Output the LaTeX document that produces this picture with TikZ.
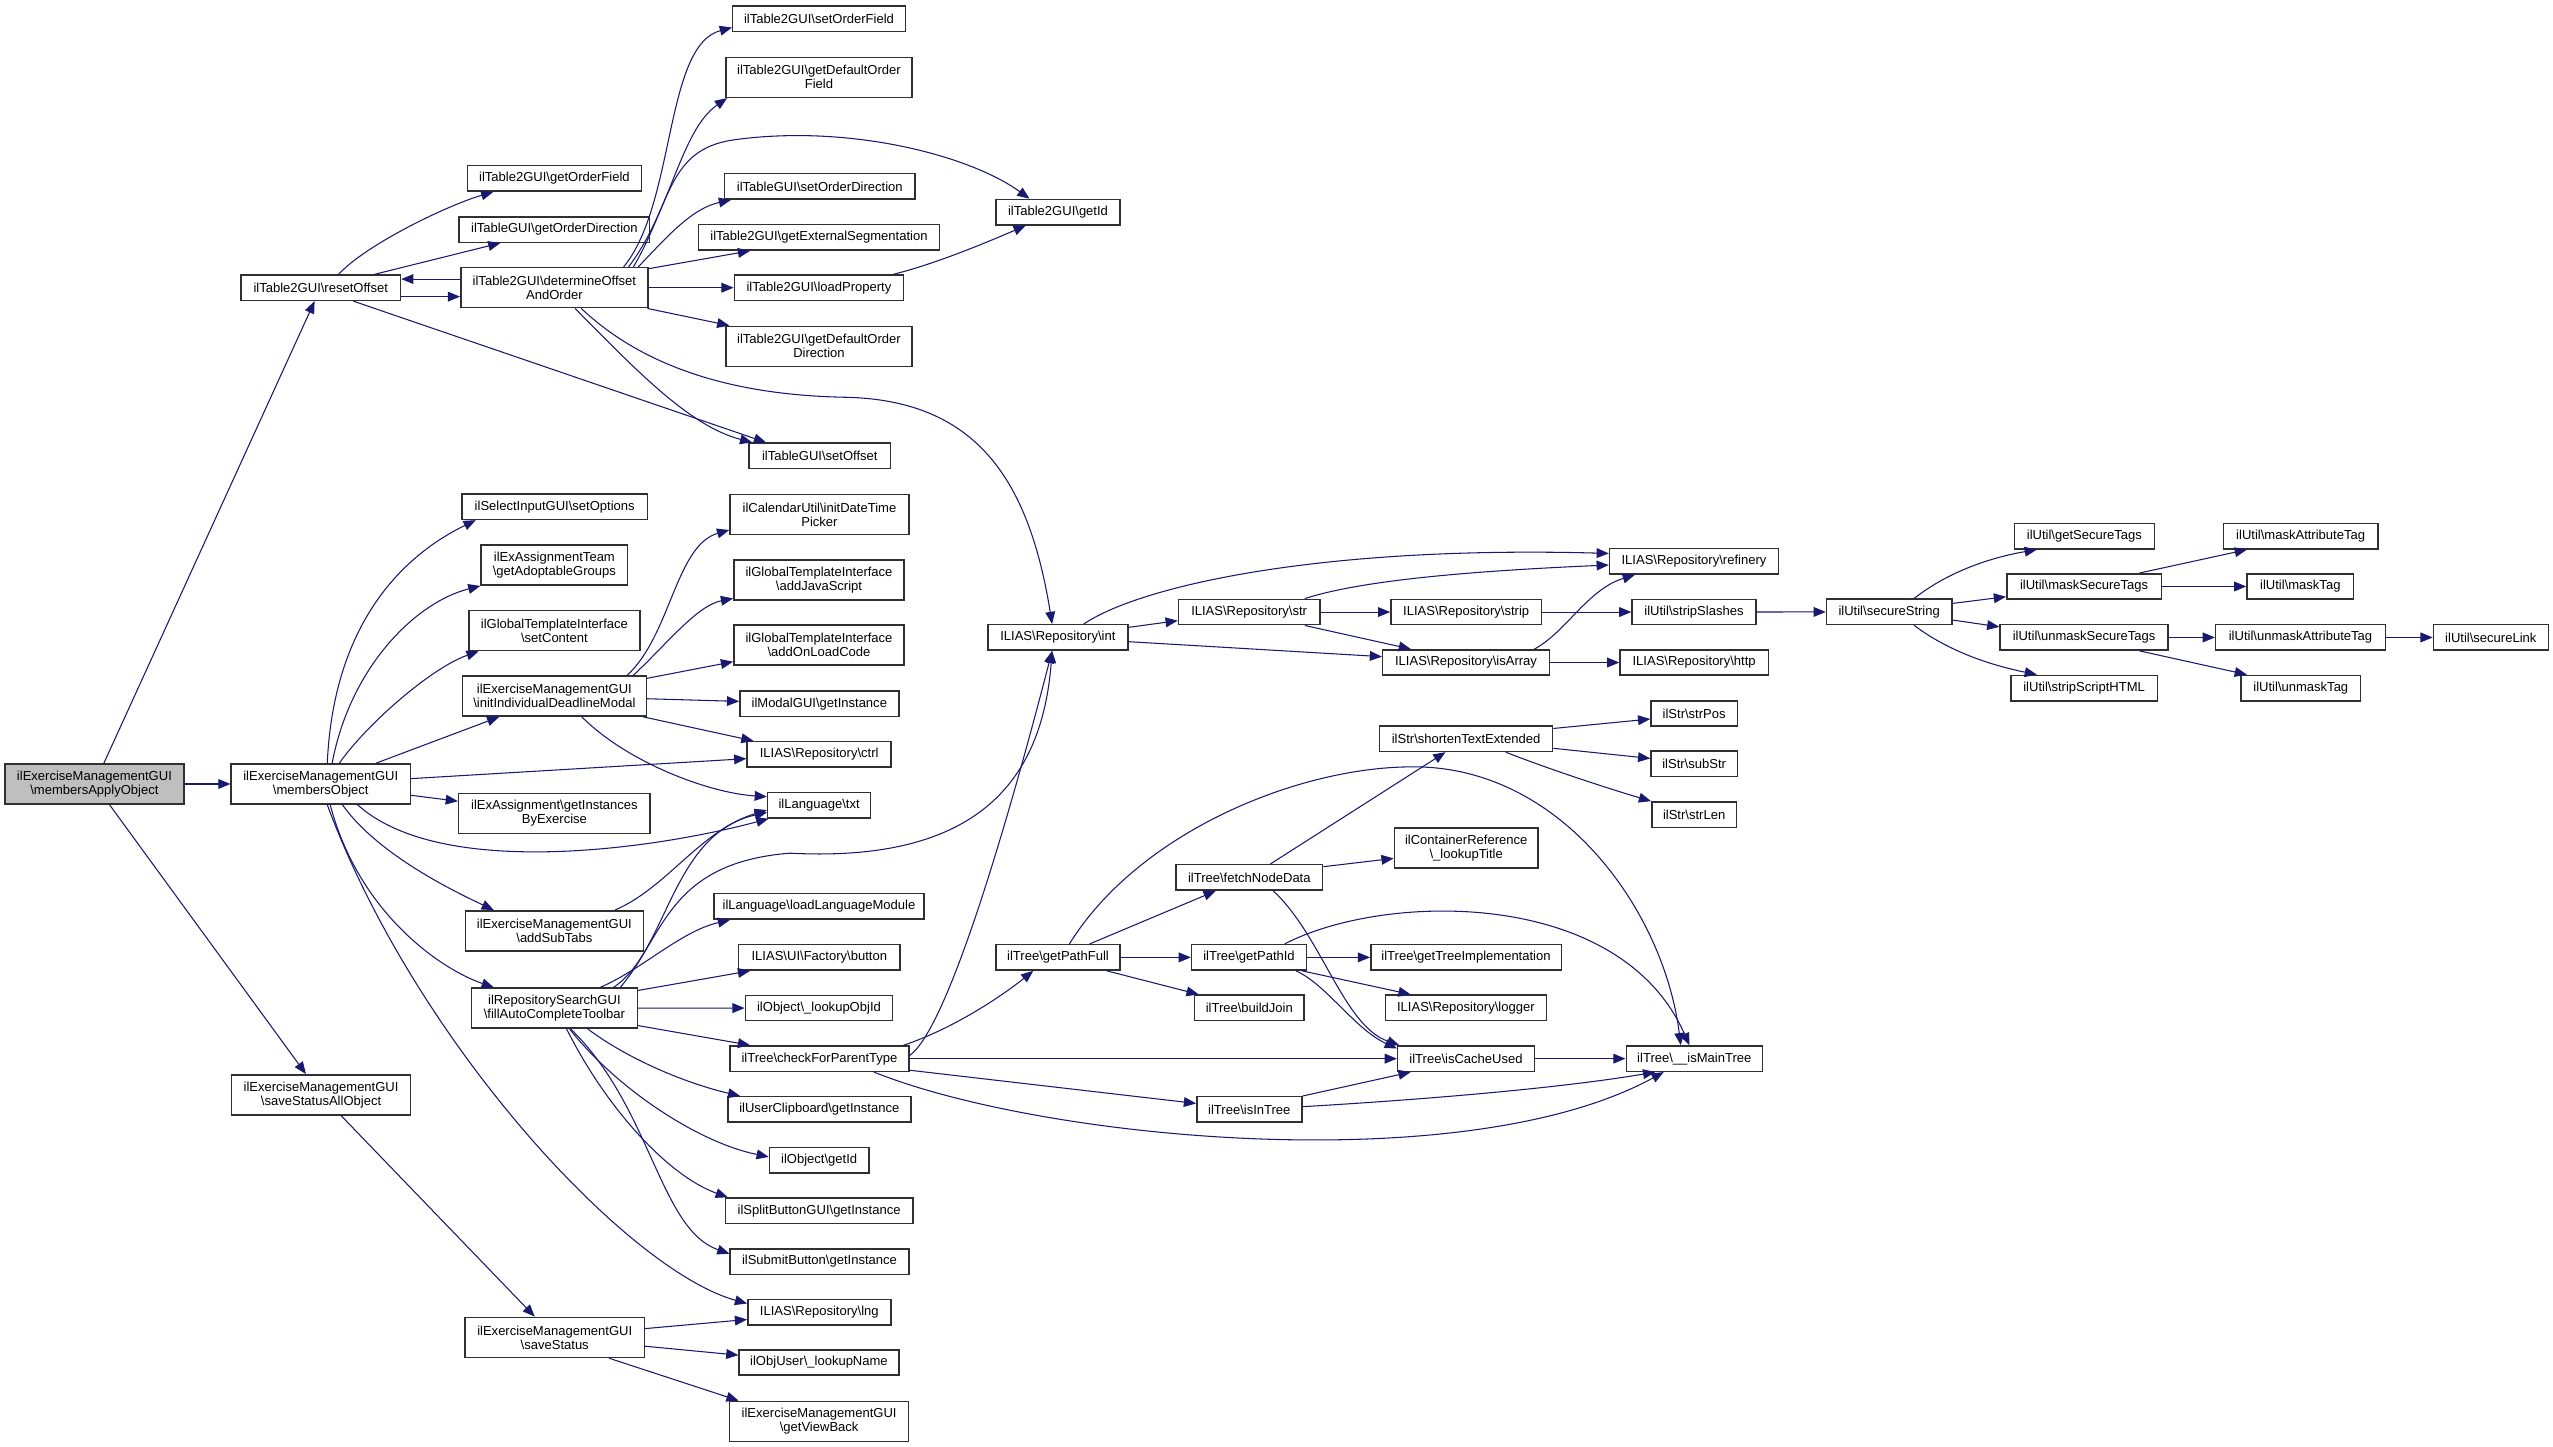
\documentclass[tikz,border=0pt]{standalone}
\usepackage{fontspec}
\setmainfont{Liberation Sans}
\usetikzlibrary{arrows.meta}
\definecolor{edgecol}{HTML}{191970}
\definecolor{nodeborder}{HTML}{303030}
\definecolor{rootgray}{HTML}{BFBFBF}
\newcommand{\BSx}{\textbackslash}
\newcommand{\nodefontx}{\fontsize{8pt}{8.6pt}\selectfont}
\begin{document}
\begin{tikzpicture}[x=1pt,y=-1pt,
  nb/.style={draw=nodeborder, line width=0.9pt, fill=white, inner sep=0pt, font=\nodefontx, align=center, minimum height=15.6pt},
  two/.style={minimum height=24.6pt},
  root/.style={fill=rootgray},
  conn/.style={draw=edgecol, line width=0.65pt, -{Triangle[length=7.5pt,width=6pt]}, fill=none}]
\useasboundingbox (0,0) rectangle (1568,888.7);
\fill[white] (0,0) rectangle (1568,888.7);
% column 0-2
\node[nb,two,root,minimum width=110pt] (A) at (58,481.5) {ilExerciseManagementGUI\\\BSx membersApplyObject};
\node[nb,minimum width=98pt] (B) at (197,176.7) {ilTable2GUI\BSx resetOffset};
\node[nb,two,minimum width=110pt] (C) at (197,481.5) {ilExerciseManagementGUI\\\BSx membersObject};
\node[nb,two,minimum width=110pt] (D) at (197.2,672.4) {ilExerciseManagementGUI\\\BSx saveStatusAllObject};
\node[nb,minimum width=107pt] (E) at (340.5,109.6) {ilTable2GUI\BSx getOrderField};
\node[nb,minimum width=117pt] (F) at (340.5,141) {ilTableGUI\BSx getOrderDirection};
\node[nb,two,minimum width=115pt] (G) at (340.5,176.7) {ilTable2GUI\BSx determineOffset\\AndOrder};
\node[nb,minimum width=114pt] (H) at (340.7,311.2) {ilSelectInputGUI\BSx setOptions};
\node[nb,two,minimum width=90pt] (I) at (340.5,347.1) {ilExAssignmentTeam\\\BSx getAdoptableGroups};
\node[nb,two,minimum width=105pt] (J) at (340.5,387.3) {ilGlobalTemplateInterface\\\BSx setContent};
\node[nb,two,minimum width=113pt] (K) at (340.5,427.5) {ilExerciseManagementGUI\\\BSx initIndividualDeadlineModal};
\node[nb,two,minimum width=117.6pt] (L) at (340.5,499.5) {ilExAssignment\BSx getInstances\\ByExercise};
\node[nb,two,minimum width=109.4pt] (M) at (340.5,571.7) {ilExerciseManagementGUI\\\BSx addSubTabs};
\node[nb,two,minimum width=102pt] (N) at (340.5,619.2) {ilRepositorySearchGUI\\\BSx fillAutoCompleteToolbar};
\node[nb,two,minimum width=110pt] (O) at (340.7,821.4) {ilExerciseManagementGUI\\\BSx saveStatus};
% column 3
\node[nb,minimum width=106pt] (sOF) at (503,11.5) {ilTable2GUI\BSx setOrderField};
\node[nb,two,minimum width=114pt] (gDOF) at (503,47.5) {ilTable2GUI\BSx getDefaultOrder\\Field};
\node[nb,minimum width=117pt] (sOD) at (503.5,114.5) {ilTableGUI\BSx setOrderDirection};
\node[nb,minimum width=148pt] (gES) at (503,145.8) {ilTable2GUI\BSx getExternalSegmentation};
\node[nb,minimum width=104pt] (lP) at (503,176.7) {ilTable2GUI\BSx loadProperty};
\node[nb,two,minimum width=114pt] (gDOD) at (503,212.7) {ilTable2GUI\BSx getDefaultOrder\\Direction};
\node[nb,minimum width=87pt] (sOff) at (503.5,280) {ilTableGUI\BSx setOffset};
\node[nb,two,minimum width=110pt] (iDTP) at (503.3,316.1) {ilCalendarUtil\BSx initDateTime\\Picker};
\node[nb,two,minimum width=104.6pt] (aJS) at (503,356.2) {ilGlobalTemplateInterface\\\BSx addJavaScript};
\node[nb,two,minimum width=104.6pt] (aOLC) at (503,396.1) {ilGlobalTemplateInterface\\\BSx addOnLoadCode};
\node[nb,minimum width=97.6pt] (mGI) at (503.2,432.2) {ilModalGUI\BSx getInstance};
\node[nb,minimum width=88.5pt] (ctrl) at (503.1,463.3) {ILIAS\BSx Repository\BSx ctrl};
\node[nb,minimum width=63.3pt] (txt) at (503.1,494.6) {ilLanguage\BSx txt};
\node[nb,minimum width=129pt] (lLM) at (503,556.7) {ilLanguage\BSx loadLanguageModule};
\node[nb,minimum width=99pt] (btn) at (503.2,588) {ILIAS\BSx UI\BSx Factory\BSx button};
\node[nb,minimum width=90.4pt] (lOI) at (503,619.1) {ilObject\BSx\_lookupObjId};
\node[nb,minimum width=109.7pt] (cFPT) at (503.3,650.2) {ilTree\BSx checkForParentType};
\node[nb,minimum width=112.4pt] (uCG) at (503.2,681.4) {ilUserClipboard\BSx getInstance};
\node[nb,minimum width=61pt] (oGI) at (503.1,712.5) {ilObject\BSx getId};
\node[nb,minimum width=115.3pt] (sBG) at (503.1,743.6) {ilSplitButtonGUI\BSx getInstance};
\node[nb,minimum width=109.7pt] (sBt) at (503.3,774.8) {ilSubmitButton\BSx getInstance};
\node[nb,minimum width=87.8pt] (lng) at (503.2,805.9) {ILIAS\BSx Repository\BSx lng};
\node[nb,minimum width=98pt] (lN) at (503,836.8) {ilObjUser\BSx\_lookupName};
\node[nb,two,minimum width=110pt] (gVB) at (503.1,873) {ilExerciseManagementGUI\\\BSx getViewBack};
% column 4
\node[nb,minimum width=76.2pt] (getId) at (649.8,130.3) {ilTable2GUI\BSx getId};
\node[nb,minimum width=86pt] (int) at (649.7,391.5) {ILIAS\BSx Repository\BSx int};
\node[nb,minimum width=76.2pt] (gPF) at (649.8,588) {ilTree\BSx getPathFull};
% column 5
\node[nb,minimum width=86.8pt] (str) at (767.2,375.9) {ILIAS\BSx Repository\BSx str};
\node[nb,minimum width=90pt] (fND) at (767.3,538.9) {ilTree\BSx fetchNodeData};
\node[nb,minimum width=70.5pt] (gPI) at (767.1,588) {ilTree\BSx getPathId};
\node[nb,minimum width=67.3pt] (bJ) at (767.3,619) {ilTree\BSx buildJoin};
\node[nb,minimum width=64.5pt] (iIT) at (767.3,681.4) {ilTree\BSx isInTree};
% column 6
\node[nb,minimum width=92.4pt] (strip) at (900.5,375.9) {ILIAS\BSx Repository\BSx strip};
\node[nb,minimum width=102.3pt] (isArray) at (900.4,406.9) {ILIAS\BSx Repository\BSx isArray};
\node[nb,minimum width=106.5pt] (sTE) at (900.4,453.7) {ilStr\BSx shortenTextExtended};
\node[nb,two,minimum width=88.2pt] (cR) at (900.5,520.7) {ilContainerReference\\\BSx\_lookupTitle};
\node[nb,minimum width=117pt] (gTI) at (900.4,588) {ilTree\BSx getTreeImplementation};
\node[nb,minimum width=99pt] (logger) at (900.3,619) {ILIAS\BSx Repository\BSx logger};
\node[nb,minimum width=84pt] (iCU) at (900.4,650.2) {ilTree\BSx isCacheUsed};
% column 7
\node[nb,minimum width=103.7pt] (ref) at (1040.4,344.8) {ILIAS\BSx Repository\BSx refinery};
\node[nb,minimum width=76pt] (sS) at (1040.4,375.9) {ilUtil\BSx stripSlashes};
\node[nb,minimum width=91pt] (http) at (1040.5,406.9) {ILIAS\BSx Repository\BSx http};
\node[nb,minimum width=53pt] (strPos) at (1040.5,438.2) {ilStr\BSx strPos};
\node[nb,minimum width=53pt] (subStr) at (1040.5,469) {ilStr\BSx subStr};
\node[nb,minimum width=52pt] (strLen) at (1040.5,500.3) {ilStr\BSx strLen};
\node[nb,minimum width=83.6pt] (iMT) at (1040.6,650.2) {ilTree\BSx\_\_isMainTree};
% columns 8-11
\node[nb,minimum width=77pt] (secS) at (1160.3,375.8) {ilUtil\BSx secureString};
\node[nb,minimum width=86pt] (gST) at (1280.2,329.3) {ilUtil\BSx getSecureTags};
\node[nb,minimum width=95pt] (mST) at (1280,360.2) {ilUtil\BSx maskSecureTags};
\node[nb,minimum width=103.2pt] (uST) at (1280,391.5) {ilUtil\BSx unmaskSecureTags};
\node[nb,minimum width=90pt] (sSH) at (1280,422.6) {ilUtil\BSx stripScriptHTML};
\node[nb,minimum width=95pt] (mAT) at (1413,329.3) {ilUtil\BSx maskAttributeTag};
\node[nb,minimum width=65.5pt] (mT) at (1412.8,360.2) {ilUtil\BSx maskTag};
\node[nb,minimum width=104.2pt] (uAT) at (1412.9,391.5) {ilUtil\BSx unmaskAttributeTag};
\node[nb,minimum width=73.6pt] (uT) at (1413.1,422.6) {ilUtil\BSx unmaskTag};
\node[nb,minimum width=70.5pt] (sL) at (1529.8,391.5) {ilUtil\BSx secureLink};
% ---------------- edges
\draw[conn] (A) -- (B);
\draw[conn] (A) -- (C);
\draw[conn] (A) -- (D);
\draw[conn] ([xshift=11pt]B.north) .. controls (225,150) and (275,126) .. ([xshift=-37.5pt]E.south);
\draw[conn] (B) -- (F);
\draw[conn] ([yshift=5.3pt]G.west) -- ([yshift=5.3pt]B.east);
\draw[conn] ([yshift=-5.5pt]B.east) -- ([yshift=-5.5pt]G.west);
\draw[conn] ([xshift=20pt]B.south) -- ([xshift=-33pt]sOff.north);
\draw[conn] ([xshift=12.7pt]G.south) .. controls (395,232) and (425,262) .. ([xshift=-41.5pt]sOff.north);
\draw[conn] ([xshift=16.5pt]G.south) .. controls (400,230) and (460,243) .. (520,244) .. controls (600,246) and (632,295) .. ([xshift=-3.5pt]int.north);
\draw[conn] ([xshift=42.5pt]G.north) .. controls (415,125) and (408,28) .. ([yshift=-5.4pt]sOF.west);
\draw[conn] ([xshift=45.5pt]G.north) .. controls (412,130) and (418,80) .. ([xshift=1pt]gDOF.south west);
\draw[conn] ([xshift=48.5pt]G.north) .. controls (412,125) and (410,92) .. (450,86) .. controls (520,76) and (595,95) .. ([xshift=-17.5pt]getId.north);
\draw[conn] ([xshift=51.5pt]G.north) .. controls (410,145) and (425,128) .. ([xshift=-54.5pt]sOD.south);
\draw[conn] ([yshift=11.7pt]G.east) -- ([xshift=-42.3pt]gES.south);
\draw[conn] (G) -- (lP);
\draw[conn] ([xshift=-0.8pt]G.south east) -- ([xshift=2.4pt]gDOD.north west);
\draw[conn] ([xshift=45.7pt]lP.north) .. controls (575,162) and (608,148) .. ([xshift=-19.8pt]getId.south);
% membersObject
\draw[conn] ([xshift=4pt]C.north) .. controls (205,380) and (250,340) .. ([xshift=-48.5pt]H.south);
\draw[conn] ([xshift=7pt]C.north) .. controls (215,410) and (255,370) .. (I.south west);
\draw[conn] ([xshift=11.4pt]C.north) .. controls (225,445) and (265,410) .. ([xshift=-46.5pt]J.south);
\draw[conn] (C) -- (K);
\draw[conn] (C) -- (ctrl);
\draw[conn] (C) -- (L);
\draw[conn] ([xshift=22.6pt]C.south) .. controls (270,540) and (400,522) .. ([xshift=1pt]txt.south west);
\draw[conn] ([xshift=13.3pt]C.south) .. controls (232,525) and (280,548) .. ([xshift=-37.2pt]M.north);
\draw[conn] ([xshift=5.8pt]C.south) .. controls (220,560) and (270,595) .. ([xshift=-37.2pt]N.north);
\draw[conn] ([xshift=4pt]C.south) .. controls (255,640) and (385,780) .. ([yshift=5.3pt]lng.west);
% initIndividualDeadlineModal
\draw[conn] ([xshift=44.7pt]K.north) .. controls (412,390) and (415,335) .. ([yshift=-9.4pt]iDTP.west);
\draw[conn] ([xshift=48.5pt]K.north) .. controls (410,395) and (428,372) .. ([yshift=-11.3pt]aJS.west);
\draw[conn] ([yshift=10.9pt]K.east) -- ([yshift=-10.3pt]aOLC.west);
\draw[conn] (K) -- (mGI);
\draw[conn] ([xshift=-2.5pt]K.south east) -- ([xshift=4.4pt]ctrl.north west);
\draw[conn] ([xshift=16.8pt]K.south) .. controls (385,468) and (435,487) .. ([yshift=5.3pt]txt.west);
% addSubTabs
\draw[conn] ([xshift=37.2pt]M.north) .. controls (410,545) and (430,510) .. ([yshift=-2.9pt]txt.west);
% fillAutoCompleteToolbar
\draw[conn] ([xshift=36.2pt]N.north) .. controls (410,585) and (412,512) .. ([yshift=-4.4pt]txt.west);
\draw[conn] ([xshift=28.1pt]N.north) .. controls (395,595) and (418,572) .. ([xshift=-54.6pt]lLM.south);
\draw[conn] ([xshift=40.4pt]N.north) .. controls (408,575) and (410,530) .. (485,524) .. controls (600,530) and (640,480) .. ([xshift=-3.5pt]int.south);
\draw[conn] ([yshift=10.9pt]N.east) -- ([xshift=-42.5pt]btn.south);
\draw[conn] (N) -- (lOI);
\draw[conn] ([yshift=-10.7pt]N.east) -- ([xshift=-42.6pt]cFPT.north);
\draw[conn] ([xshift=20.5pt]N.south) .. controls (385,650) and (420,665) .. ([xshift=-48.6pt]uCG.north);
\draw[conn] ([xshift=9.3pt]N.south) .. controls (380,670) and (430,702) .. ([yshift=2pt]oGI.west);
\draw[conn] ([xshift=7.5pt]N.south) .. controls (372,680) and (410,722) .. ([xshift=2pt]sBG.north west);
\draw[conn] ([xshift=10pt]N.south) .. controls (400,680) and (405,755) .. ([yshift=4.8pt]sBt.west);
% saveStatus
\draw[conn] (D) -- (O);
\draw[conn] ([yshift=5.4pt]O.east) -- ([yshift=-4.5pt]lng.west);
\draw[conn] ([yshift=-5.4pt]O.east) -- ([yshift=4.5pt]lN.west);
\draw[conn] ([xshift=33.3pt]O.south) -- ([xshift=6pt]gVB.north west);
% repository
\draw[conn] ([yshift=6.2pt]int.east) -- ([yshift=-5.3pt]str.west);
\draw[conn] ([xshift=15.9pt]int.north) .. controls (700,360) and (810,335) .. ([yshift=4.9pt]ref.west);
\draw[conn] ([yshift=-2.6pt]int.east) -- ([yshift=3.6pt]isArray.west);
\draw[conn] (str) -- (strip);
\draw[conn] ([xshift=34.2pt]str.north) .. controls (840,355) and (920,350) .. ([yshift=-2.2pt]ref.west);
\draw[conn] ([xshift=34.2pt]str.south) -- ([xshift=-33.8pt]isArray.north);
\draw[conn] (strip) -- (sS);
\draw[conn] ([xshift=42pt]isArray.north) .. controls (962,388) and (975,362) .. ([xshift=-36.3pt]ref.south);
\draw[conn] (isArray) -- (http);
\draw[conn] (sS) -- (secS);
\draw[conn] ([xshift=15.3pt]secS.north) .. controls (1198,350) and (1225,342) .. ([xshift=-29.2pt]gST.south);
\draw[conn] ([yshift=5.2pt]secS.east) -- ([yshift=-6.3pt]mST.west);
\draw[conn] ([yshift=-5pt]secS.east) -- ([yshift=6.5pt]uST.west);
\draw[conn] ([xshift=15.3pt]secS.south) .. controls (1198,401) and (1225,409) .. ([xshift=-29pt]sSH.north);
\draw[conn] ([xshift=34pt]mST.north) -- ([xshift=-33pt]mAT.south);
\draw[conn] (mST) -- (mT);
\draw[conn] (uST) -- (uAT);
\draw[conn] ([xshift=34pt]uST.south) -- ([xshift=-33.1pt]uT.north);
\draw[conn] (uAT) -- (sL);
% tree
\draw[conn] ([yshift=1.9pt]cFPT.east) .. controls (585,630) and (628,470) .. ([xshift=-3.5pt]int.south);
\draw[conn] ([xshift=51.6pt]cFPT.north) .. controls (585,632) and (615,612) .. ([xshift=-15.2pt]gPF.south);
\draw[conn] (cFPT) -- (iCU);
\draw[conn] ([yshift=-7.1pt]cFPT.east) -- ([yshift=3.7pt]iIT.west);
\draw[conn] ([xshift=33.5pt]cFPT.south) .. controls (640,700) and (900,725) .. ([xshift=-18.8pt]iMT.south);
\draw[conn] ([xshift=19.4pt]gPF.north) -- ([xshift=-20.6pt]fND.south);
\draw[conn] (gPF) -- (gPI);
\draw[conn] ([xshift=29.9pt]gPF.south) -- ([xshift=-31.1pt]bJ.north);
\draw[conn] ([xshift=7pt]gPF.north) .. controls (700,510) and (800,470) .. (870,471) .. controls (960,472) and (1022,560) .. ([xshift=-8.3pt]iMT.north);
\draw[conn] ([xshift=12.9pt]fND.north) -- ([xshift=-12.6pt]sTE.south);
\draw[conn] ([yshift=6.6pt]fND.east) -- ([yshift=-6.5pt]cR.west);
\draw[conn] ([xshift=14.7pt]fND.south) .. controls (812,575) and (825,630) .. ([xshift=1.5pt]iCU.north west);
\draw[conn] ([yshift=6.3pt]sTE.east) -- ([yshift=-3.4pt]strPos.west);
\draw[conn] ([yshift=-5.9pt]sTE.east) -- ([yshift=3.2pt]subStr.west);
\draw[conn] ([xshift=24.4pt]sTE.south) .. controls (950,472) and (990,485) .. (strLen.north west);
\draw[conn] (gPI) -- (gTI);
\draw[conn] ([xshift=32.5pt]gPI.south) -- ([xshift=-33.9pt]logger.north);
\draw[conn] ([xshift=28.9pt]gPI.south) .. controls (815,605) and (832,632) .. ([yshift=-2pt]iCU.north west);
\draw[conn] ([xshift=21.9pt]gPI.north) .. controls (850,548) and (995,545) .. ([xshift=-3pt]iMT.north);
\draw[conn] (iCU) -- (iMT);
\draw[conn] (iIT.north east) -- ([xshift=-34pt]iCU.south);
\draw[conn] ([yshift=1.7pt]iIT.east) .. controls (880,675) and (960,668) .. ([xshift=-24pt]iMT.south);
\end{tikzpicture}
\end{document}
